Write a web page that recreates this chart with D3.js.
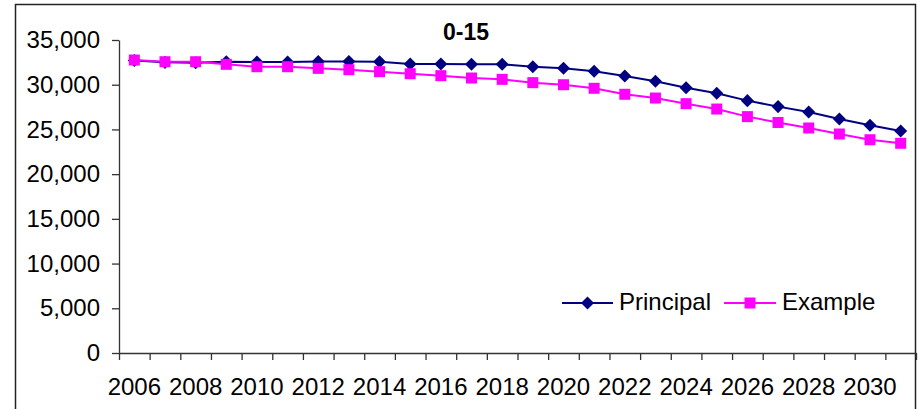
<!DOCTYPE html>
<html>
<head>
<meta charset="utf-8">
<script src="https://cdn.jsdelivr.net/npm/d3@7"></script>
<style>
  body { margin: 0; background: #fff; }
  svg { display: block; font-family: "Liberation Sans", Arial, sans-serif; }
</style>
</head>
<body>
<svg></svg>
<script>
var years = d3.range(2006, 2032);
var principal = [32700, 32500, 32460, 32570, 32540, 32540, 32600, 32600, 32570, 32310,
                 32310, 32280, 32280, 32010, 31830, 31500, 30970, 30380, 29670, 29040,
                 28220, 27550, 26950, 26170, 25460, 24820];
var example = [32760, 32570, 32570, 32280, 32010, 32010, 31830, 31680, 31460, 31230,
               31010, 30750, 30600, 30230, 30000, 29600, 28930, 28510, 27880, 27280,
               26430, 25780, 25160, 24490, 23850, 23450];
var yTicks = [0, 5000, 10000, 15000, 20000, 25000, 30000, 35000];
var xLabels = d3.range(2006, 2031, 2);

var w = 918;
var h = 409;
var fontSize = "24px";

var svg = d3.select("svg")
    .attr("width", w)
    .attr("height", h);

// outer chart border (bottom runs off the picture)
svg.append("path")
    .attr("d", "M15.5," + (h + 5) + "V4.5H915.5V" + (h + 5))
    .attr("fill", "none")
    .attr("stroke", "#222")
    .attr("stroke-width", 1.5);

var plotLeft = 119, plotRight = 916, plotTop = 40, plotBottom = 353;

var x = d3.scaleBand().domain(years).range([plotLeft, plotRight]);
var xEdge = d3.scaleLinear().domain([0, years.length]).range([plotLeft, plotRight]);
var y = d3.scaleLinear().domain([0, 35000]).range([plotBottom, plotTop]);

// y axis
svg.append("g")
    .attr("transform", "translate(" + plotLeft + ",0)")
    .call(d3.axisLeft(y).tickValues(yTicks).tickSizeInner(7).tickSizeOuter(0)
        .tickPadding(12).tickFormat(d3.format(",")));

// x axis: tick marks on category edges
svg.append("g")
    .attr("transform", "translate(0," + plotBottom + ")")
    .call(d3.axisBottom(xEdge).tickValues(d3.range(years.length + 1))
        .tickSizeInner(7).tickSizeOuter(0).tickFormat(""));

// x labels at category centres
var xLab = svg.append("g")
    .attr("transform", "translate(0," + plotBottom + ")")
    .call(d3.axisBottom(x).tickValues(xLabels).tickSize(0).tickPadding(25));
xLab.select(".domain").remove();

svg.selectAll(".domain, .tick line")
    .attr("stroke", "#333")
    .attr("stroke-width", 1.3);
svg.selectAll(".tick text")
    .attr("font-size", fontSize)
    .attr("font-family", "Liberation Sans, Arial, sans-serif")
    .attr("fill", "#000");

// title
svg.append("text")
    .attr("x", 466)
    .attr("y", 40)
    .attr("text-anchor", "middle")
    .attr("font-size", "23px")
    .attr("font-weight", "bold")
    .text("0-15");

var series = [
    { name: "Principal", values: principal, color: "#000080", shape: "diamond" },
    { name: "Example", values: example, color: "#ff00ff", shape: "square" }
];

var line = d3.line()
    .x(function (d, i) { return x(years[i]) + x.bandwidth() / 2; })
    .y(function (d) { return y(d); });

function marker(shape) {
    if (shape == "diamond") return d3.symbol(d3.symbolSquare, 85)();
    return d3.symbol(d3.symbolSquare, 121)();
}

series.forEach(function (s) {
    svg.append("path")
        .attr("d", line(s.values))
        .attr("fill", "none")
        .attr("stroke", s.color)
        .attr("stroke-width", 2);

    svg.selectAll(".m-" + s.shape)
        .data(s.values)
        .enter()
        .append("path")
        .attr("class", "m-" + s.shape)
        .attr("d", marker(s.shape))
        .attr("fill", s.color)
        .attr("transform", function (d, i) {
            var t = "translate(" + (x(years[i]) + x.bandwidth() / 2) + "," + y(d) + ")";
            return s.shape == "diamond" ? t + " rotate(45)" : t;
        });
});

// legend
var legendItems = [
    { x1: 562, x2: 613, tx: 619 },
    { x1: 724, x2: 776, tx: 782 }
];
series.forEach(function (s, i) {
    var L = legendItems[i];
    var g = svg.append("g");
    g.append("line")
        .attr("x1", L.x1).attr("x2", L.x2)
        .attr("y1", 303).attr("y2", 303)
        .attr("stroke", s.color)
        .attr("stroke-width", 2);
    g.append("path")
        .attr("d", marker(s.shape))
        .attr("fill", s.color)
        .attr("transform", "translate(" + (L.x1 + L.x2) / 2 + ",303)" + (s.shape == "diamond" ? " rotate(45)" : ""));
    g.append("text")
        .attr("x", L.tx)
        .attr("y", 310)
        .attr("font-size", fontSize)
        .text(s.name);
});
</script>
</body>
</html>
